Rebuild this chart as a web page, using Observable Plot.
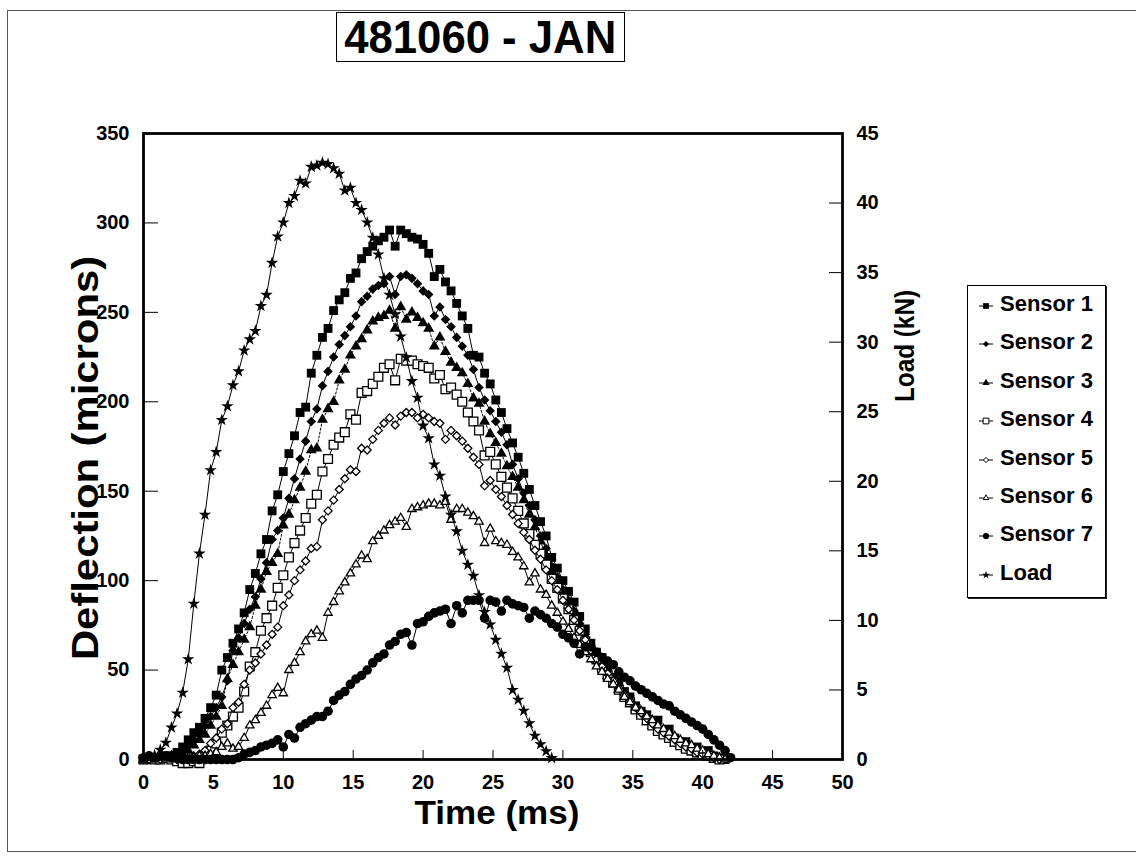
<!DOCTYPE html>
<html><head><meta charset="utf-8">
<script src="https://cdn.jsdelivr.net/npm/d3@7"></script>
<script src="https://cdn.jsdelivr.net/npm/@observablehq/plot@0.6"></script>
<style>
body{margin:0;background:#fff;}
#wrap{position:relative;width:1136px;height:861px;overflow:hidden;font-family:"Liberation Sans",Arial,sans-serif;color:#000;}
#wrap svg.plot{position:absolute;left:0;top:0;}
#wrap svg.plot g[aria-label$="tick label"], #wrap svg.plot g[aria-label$="tick label"] text{font-size:20px !important;font-weight:bold !important;}
.border{position:absolute;left:7px;top:10px;width:1140px;height:842px;border:1px solid #555;box-sizing:border-box;}
.title{position:absolute;left:336px;top:12px;width:289px;height:50px;border:1.5px solid #000;box-sizing:border-box;display:flex;align-items:center;justify-content:center;}
.title span{font-weight:bold;font-size:46px;display:inline-block;transform:scaleX(0.95);white-space:nowrap;line-height:1;}
.lab{position:absolute;font-weight:bold;white-space:nowrap;line-height:1;}
.legend{position:absolute;left:967px;top:285px;width:139px;height:313px;border:1.5px solid #000;box-shadow:1px 1px 0 #222;box-sizing:border-box;background:#fff;}
.li{position:absolute;left:9px;height:22px;display:flex;align-items:center;font-weight:bold;font-size:22px;white-space:nowrap;}
.li svg{margin-right:5px;}
</style></head><body><div id="wrap"></div>
<script>
const title = "481060 - JAN";
const xLabel = "Time (ms)";
const yLabel = "Deflection (microns)";
const y2Label = "Load (kN)";
const seriesNames = ["Sensor 1","Sensor 2","Sensor 3","Sensor 4","Sensor 5","Sensor 6","Sensor 7","Load"];
const xTicks = [0,5,10,15,20,25,30,35,40,45,50];
const yTicks = [0,50,100,150,200,250,300,350];
const loadTicks = [0,5,10,15,20,25,30,35,40,45];

const time = [
0,0.4,0.8,1.2,1.6,2,2.4,2.8,3.2,3.6,
4,4.4,4.8,5.2,5.6,6,6.4,6.8,7.2,7.6,
8,8.4,8.8,9.2,9.6,10,10.4,10.8,11.2,11.6,
12,12.4,12.8,13.2,13.6,14,14.4,14.8,15.2,15.6,
16,16.4,16.8,17.2,17.6,18,18.4,18.8,19.2,19.6,
20,20.4,20.8,21.2,21.6,22,22.4,22.8,23.2,23.6,
24,24.4,24.8,25.2,25.6,26,26.4,26.8,27.2,27.6,
28,28.4,28.8,29.2,29.6,30,30.4,30.8,31.2,31.6,
32,32.4,32.8,33.2,33.6,34,34.4,34.8,35.2,35.6,
36,36.4,36.8,37.2,37.6,38,38.4,38.8,39.2,39.6,
40,40.4,40.8,41.2,41.6,42];

const sensor1 = [
0,0,1,1,2,2,4,7,11,15,
18,23,29,36,50,57,65,73,82,95,
104,115,123,139,148,161,171,181,194,197,
216,226,236,241,251,257,261,269,272,280,
284,287,290,292,296,287,296,294,292,291,
288,283,270,274,267,262,255,248,241,226,
225,216,210,201,194,185,177,169,160,151,
142,133,125,113,107,100,94,88,80,73,
65,60,57,52,46,44,38,35,30,27,
25,20,22,15,17,12,8,10,6,7,
4,5,2,1,0];
const sensor2 = [
0,1,0,1,1,2,3,5,8,11,
15,19,24,29,35,44,61,68,76,84,
91,101,110,123,128,135,146,157,168,178,
189,196,209,217,225,232,237,242,248,256,
259,263,265,266,270,260,270,271,269,266,
262,260,248,253,246,242,236,231,226,218,
208,201,195,189,183,176,165,157,149,142,
134,125,118,108,102,95,89,83,76,70,
63,58,54,49,45,40,36,33,29,26,
22,20,17,15,12,10,11,7,5,6,
3,3,1,0];
const sensor3 = [
0,0,1,1,1,2,2,3,5,8,
11,14,19,24,30,45,53,60,67,74,
86,95,105,110,115,131,137,145,152,161,
173,174,190,196,200,212,218,226,231,235,
240,245,247,248,251,241,253,246,250,247,
244,241,231,236,228,222,219,216,210,202,
199,189,182,177,171,164,158,152,145,137,
130,122,113,105,99,92,86,80,74,67,
61,56,52,47,43,39,35,31,28,25,
21,19,16,14,12,9,8,6,5,3,
2,1,0];
const sensor4 = [
0,1,0,0,1,0,-1,-2,-2,-1,
-2,2,5,9,15,19,24,29,38,52,
60,72,79,86,96,103,113,121,128,135,
143,148,161,168,176,180,183,193,190,205,
206,210,214,219,221,212,224,223,223,221,
220,219,213,215,207,208,204,200,194,189,
184,170,172,165,158,152,146,139,132,126,
120,115,109,101,96,90,84,78,72,66,
60,56,51,47,43,39,35,32,28,25,
22,19,16,14,12,10,8,6,5,4,
3,2,1,0];
const sensor5 = [
0,0,1,0,1,1,0,1,1,2,
3,5,9,12,17,20,29,32,42,50,
54,59,64,70,74,86,92,100,106,111,
118,119,134,139,145,151,157,162,161,174,
173,179,184,188,191,187,192,194,194,191,
193,191,189,188,179,184,181,178,174,169,
165,153,156,151,147,142,137,132,127,123,
117,112,106,100,95,89,84,78,72,67,
61,56,52,48,44,40,36,33,29,26,
23,20,17,15,13,11,9,7,6,4,
3,2,1,0];
const sensor6 = [
0,1,0,1,0,1,0,0,1,1,
2,2,3,4,7,9,6,7,12,19,
22,26,30,36,40,37,50,54,60,66,
70,72,68,82,88,94,99,104,109,114,
112,122,125,128,131,133,135,130,140,141,
142,143,143,142,144,134,140,140,138,136,
133,121,129,122,121,120,116,113,108,99,
104,95,92,86,82,77,73,68,64,60,
56,52,49,45,42,39,35,32,29,27,
24,22,19,17,15,13,11,9,8,6,
5,3,2,1,0];
const sensor7 = [
1,2,1,2,2,1,1,0,0,0,
0,0,0,0,0,0,0,1,3,4,
5,7,8,9,11,7,14,12,18,20,
22,24,24,27,33,36,38,42,45,47,
50,54,57,59,64,66,70,71,64,76,
77,80,82,83,84,76,86,82,89,89,
89,79,89,88,83,89,87,86,85,79,
83,81,79,76,74,70,68,65,59,63,
63,60,57,55,53,49,46,44,41,39,
37,35,33,31,30,27,25,23,21,19,
17,14,11,8,5,1];
const load = [
0,0.1,0.3,0.7,1.2,2.3,3.3,4.8,7.2,11.2,
14.8,17.6,20.8,22.1,24.4,25.4,26.9,27.9,29.4,30.2,
30.8,32.6,33.4,35.7,37.6,38.6,40.0,40.5,41.6,41.4,
42.6,42.7,42.9,42.8,42.5,42.1,40.9,41.1,40.0,39.5,
38.6,37.5,36.3,34.6,33.4,32.0,30.4,28.9,27.2,26.0,
24.0,23.1,21.2,20.4,18.9,17.6,16.4,15.0,14.0,13.2,
11.8,10.6,9.7,8.6,7.6,6.6,5.0,4.3,3.5,2.6,
1.7,1.1,0.6,0.1];

// map load (kN, 0-45) onto the deflection scale (0-350)
const K = 350 / 45;
const seriesValues = [sensor1,sensor2,sensor3,sensor4,sensor5,sensor6,sensor7,load.map(v => v * K)];
const styles = [
  {symbol:"square", fill:"black", stroke:"none", r:5},
  {symbol:"diamond2", fill:"black", stroke:"none", r:4.3},
  {symbol:"triangle", fill:"black", stroke:"none", r:4.1},
  {symbol:"square", fill:"white", stroke:"black", r:5},
  {symbol:"diamond2", fill:"white", stroke:"black", r:3.6},
  {symbol:"triangle2", fill:"white", stroke:"black", r:4},
  {symbol:"circle", fill:"black", stroke:"none", r:4.8},
  {symbol:"star", fill:"black", stroke:"none", r:3.9}
];
const dash = [null,null,"2,2",null,null,null,null,null];

const marks = [];
seriesNames.forEach((name, k) => {
  const rows = seriesValues[k].map((v, i) => ({t: time[i], v, series: name}));
  marks.push(Plot.line(rows, {x:"t", y:"v", stroke:"black", strokeWidth:1, strokeDasharray: dash[k] ?? undefined}));
  const s = styles[k];
  marks.push(Plot.dot(rows, {x:"t", y:"v", symbol: s.symbol, r: s.r, fill: s.fill, stroke: s.stroke, strokeWidth: 1.3}));
});

const chart = Plot.plot({
  width: 1136, height: 861,
  marginLeft: 143, marginRight: 294, marginTop: 133, marginBottom: 102,
  style: {fontFamily: "Liberation Sans, Arial, sans-serif", background: "transparent", overflow: "visible"},
  x: {domain: [0, 50]},
  y: {domain: [0, 350]},
  marks: [
    ...marks,
    Plot.frame({stroke: "black", strokeWidth: 2.8}),
    Plot.axisX({ticks: xTicks, tickSize: 9, dy: -9, text: null, label: null, strokeWidth: 1}),
    Plot.axisX({ticks: xTicks, tickSize: 0, tickPadding: 15, label: null, fontSize: 20, fontWeight: "bold"}),
    Plot.axisY({ticks: yTicks, tickSize: 15, dx: 15, text: null, label: null}),
    Plot.axisY({ticks: yTicks, tickSize: 0, tickPadding: 14, label: null, fontSize: 20, fontWeight: "bold"}),
    Plot.axisY({anchor: "right", ticks: loadTicks.map(v => v * K), tickSize: 14, dx: -14, text: null, label: null}),
    Plot.axisY({anchor: "right", ticks: loadTicks.map(v => v * K), tickFormat: d => String(Math.round(d / K)), tickSize: 0, tickPadding: 14, label: null, fontSize: 20, fontWeight: "bold"})
  ]
});
chart.classList.add("plot");

const wrap = document.getElementById("wrap");
wrap.innerHTML = `<div class="border"></div>`;
wrap.appendChild(chart);

const t = document.createElement("div");
t.className = "title";
t.innerHTML = `<span>${title}</span>`;
wrap.appendChild(t);

function label(text, cx, cy, rot, size, stretch) {
  const d = document.createElement("div");
  d.className = "lab";
  d.textContent = text;
  d.style.fontSize = size + "px";
  d.style.left = cx + "px";
  d.style.top = cy + "px";
  d.style.transform = `translate(-50%,-50%)` + (rot ? ` rotate(${rot}deg)` : "") + ` scaleX(${stretch})`;
  wrap.appendChild(d);
}
label(xLabel, 497, 812, 0, 34, 1.03);
label(yLabel, 85, 458, -90, 37, 1.13);
label(y2Label, 905, 346, -90, 27, 0.9);

const lg = document.createElement("div");
lg.className = "legend";
const symMap = {square: d3.symbolSquare, diamond2: d3.symbolDiamond2, triangle: d3.symbolTriangle, triangle2: d3.symbolTriangle2, circle: d3.symbolCircle, star: d3.symbolStar};
seriesNames.forEach((name, k) => {
  const s = styles[k];
  const row = document.createElement("div");
  row.className = "li";
  row.style.top = (7 + k * 38.4) + "px";
  const size = Math.PI * (s.r * 0.65) ** 2;
  const path = d3.symbol(symMap[s.symbol], size)();
  row.innerHTML = `<svg width="18" height="16" viewBox="-9 -8 18 16"><line x1="-7" x2="7" y1="2" y2="2" stroke="black" stroke-width="1"/><path d="${path}" transform="translate(0,2)" fill="${s.fill}" stroke="${s.stroke}" stroke-width="1"/></svg><span>${name}</span>`;
  lg.appendChild(row);
});
wrap.appendChild(lg);
</script>
</body></html>
